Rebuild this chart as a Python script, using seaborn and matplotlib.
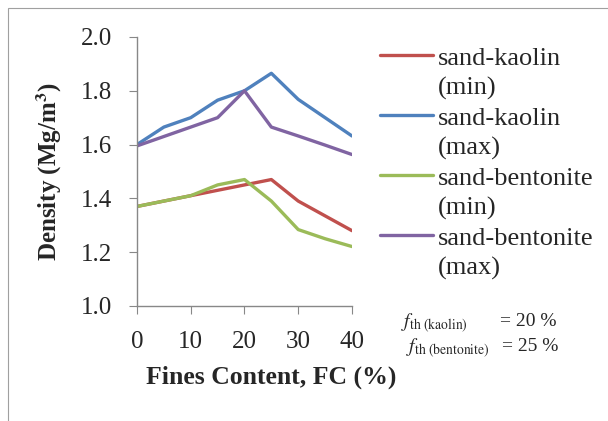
import pandas as pd
import matplotlib.pyplot as plt
import matplotlib.patches as mpatches
import seaborn as sns

# data
fines_content = [0, 5, 10, 15, 20, 25, 30, 35, 40]
kaolin_min = [1.37, 1.39, 1.41, 1.43, 1.45, 1.47, 1.39, 1.335, 1.28]
kaolin_max = [1.60, 1.665, 1.70, 1.765, 1.80, 1.865, 1.768, 1.70, 1.632]
bentonite_min = [1.37, 1.39, 1.41, 1.45, 1.47, 1.39, 1.284, 1.25, 1.221]
bentonite_max = [1.595, 1.63, 1.665, 1.70, 1.80, 1.665, 1.632, 1.598, 1.563]

series_names = ["sand-kaolin (min)", "sand-kaolin (max)",
                "sand-bentonite (min)", "sand-bentonite (max)"]
colors = ["#C0504D", "#4F81BD", "#9BBB59", "#8064A2"]

x_ticks = [0, 10, 20, 30, 40]
y_ticks = [1.0, 1.2, 1.4, 1.6, 1.8, 2.0]


def main():
    rows = []
    for name, vals in zip(series_names, [kaolin_min, kaolin_max, bentonite_min, bentonite_max]):
        for fc, v in zip(fines_content, vals):
            rows.append({"FC": fc, "Density": v, "series": name})
    df = pd.DataFrame(rows)

    sns.set_style("white")
    plt.rcParams['font.family'] = ['Liberation Serif', 'DejaVu Serif']
    plt.rcParams['mathtext.fontset'] = 'stix'

    fig = plt.figure(figsize=(6.08, 4.21), dpi=100)
    ax = fig.add_axes([0.2253, 0.2732, 0.3536, 0.639])

    # thin frame around the figure like the source image
    fig.patches.append(mpatches.Rectangle((8 / 608, -0.1), 1.2, 1.1 - 8 / 421,
                                          transform=fig.transFigure, fill=False,
                                          edgecolor="#A0A0A0", linewidth=0.8))

    sns.lineplot(data=df, x="FC", y="Density", hue="series", hue_order=series_names,
                 palette=colors, linewidth=2.4, ax=ax, legend=False)

    ax.set_xlim(0, 40)
    ax.set_ylim(1.0, 2.0)
    ax.set_xticks(x_ticks)
    ax.set_yticks(y_ticks)
    ax.set_yticklabels([f"{t:.1f}" for t in y_ticks])
    ax.tick_params(axis="both", labelsize=18, length=6, color="#888888",
                   direction="out", bottom=True, left=True)
    ax.tick_params(axis="y", pad=12)
    ax.tick_params(axis="x", pad=12)
    for side in ["top", "right"]:
        ax.spines[side].set_visible(False)
    for side in ["left", "bottom"]:
        ax.spines[side].set_color("#888888")
        ax.spines[side].set_linewidth(1.0)

    ax.set_xlabel("Fines Content, FC (%)", fontsize=18.5, fontweight="bold")
    ax.xaxis.set_label_coords(0.623, -0.223)
    ax.set_ylabel("Density (Mg/m$^\\mathbf{3}$)", fontsize=18, fontweight="bold", labelpad=12)

    # legend: each name split over two rows, handle on the first row only
    handles, labels = [], []
    for name, c in zip(series_names, colors):
        first, second = name.split(" ")
        handles.append(plt.Line2D([], [], color=c, linewidth=2.4))
        labels.append(first)
        handles.append(plt.Line2D([], [], color="none"))
        labels.append(second)
    ax.legend(handles, labels, loc="upper left", bbox_to_anchor=(1.13, 0.966),
              frameon=False, fontsize=19, handlelength=2.0, handletextpad=0.2,
              labelspacing=0.24, borderaxespad=0.0, borderpad=0.0)

    fig.text(0.66, 0.222, r"$f_{\mathrm{th\ (kaolin)}}$", fontsize=14)
    fig.text(0.822, 0.225, "= 20 %", fontsize=14)
    fig.text(0.668, 0.163, r"$f_{\mathrm{th\ (bentonite)}}$", fontsize=14)
    fig.text(0.825, 0.166, "= 25 %", fontsize=14)

    fig.savefig("out.png", dpi=100)
    plt.close(fig)


if __name__ == "__main__":
    main()
